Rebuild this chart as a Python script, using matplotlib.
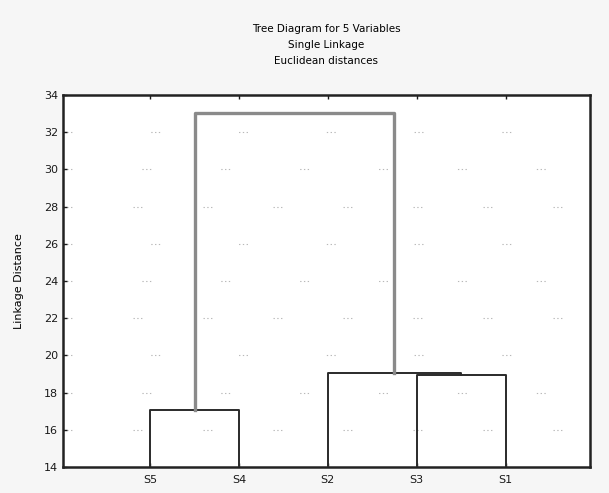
import matplotlib
matplotlib.use('Agg')
import matplotlib.pyplot as plt
import numpy as np

# leaf order as drawn, left to right
leaves = ['S5', 'S4', 'S2', 'S3', 'S1']
# merges: (left cluster, right cluster, linkage distance)
merge_left = ['S5', 'S3', 'S2', 'C0']
merge_right = ['S4', 'S1', 'C1', 'C2']
merge_height = [17.05, 18.95, 19.05, 33.05]
yticks = [14, 16, 18, 20, 22, 24, 26, 28, 30, 32, 34]

fig = plt.figure(figsize=(6.09, 4.93), dpi=100)
fig.patch.set_facecolor('#f6f6f6')
ax = fig.add_axes([63 / 609, 1 - 467 / 493, 527 / 609, 372 / 493])
ax.set_facecolor('white')

xs = {name: i + 1 for i, name in enumerate(leaves)}
ys = {name: 14.0 for name in leaves}
for k, (a, b, h) in enumerate(zip(merge_left, merge_right, merge_height)):
    top = k == len(merge_height) - 1
    col = '#8a8a8a' if top else '#2a2a2a'
    lw = 2.4 if top else 1.4
    ax.plot([xs[a], xs[a], xs[b], xs[b]], [ys[a], h, h, ys[b]],
            color=col, lw=lw, solid_joinstyle='round', zorder=3)
    name = 'C%d' % k
    xs[name] = (xs[a] + xs[b]) / 2
    ys[name] = h

# faint dotted rows like the scanned grid
for i, y in enumerate(yticks[1:-1]):
    ax.axhline(y, color='#b8b8b8', lw=0.8,
               dashes=(1.2, 2.2, 1.2, 2.2, 1.2, 55 + 8 * (i % 3)), zorder=1)

ax.set_xlim(0.02, 5.95)
ax.set_ylim(14, 34)
ax.set_yticks(yticks)
ax.set_xticks([xs[n] for n in leaves])
ax.set_xticklabels(leaves)
ax.tick_params(direction='in', length=3, width=1, labelsize=8, colors='#1a1a1a',
               top=True)
ax.tick_params(axis='x', pad=6)
for s in ax.spines.values():
    s.set_linewidth(1.8)
    s.set_color('#222222')

ax.set_ylabel('Linkage Distance', fontsize=8, labelpad=14)
fig.text(326 / 609, 1 - 45 / 493,
         'Tree Diagram for 5 Variables\nSingle Linkage\nEuclidean distances',
         ha='center', va='center', fontsize=7.5, linespacing=1.75)

fig.savefig('out.png', dpi=100, facecolor=fig.get_facecolor())
